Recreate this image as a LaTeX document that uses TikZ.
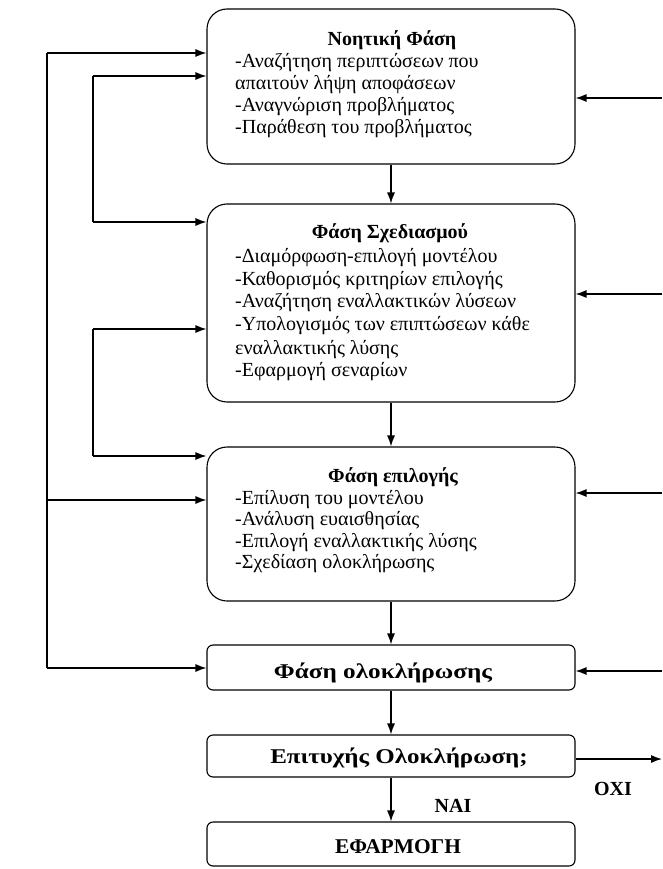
\documentclass[tikz,border=0pt]{standalone}
\usepackage{fontspec}
\usepackage{graphicx}
\setmainfont{Liberation Serif}
\usetikzlibrary{arrows.meta}
\begin{document}
\begin{tikzpicture}[x=1pt,y=-1pt,
  bigbox/.style={draw, line width=1.1pt, rounded corners=20pt, minimum width=368pt, inner sep=0pt},
  smallbox/.style={draw, line width=1.1pt, rounded corners=6pt, minimum width=368pt, inner sep=0pt},
  ttl/.style={font=\fontsize{20}{22}\selectfont\bfseries, anchor=base, inner sep=0pt},
  sttl/.style={font=\fontsize{21}{23}\selectfont\bfseries, anchor=base, inner sep=0pt},
  ln/.style={font=\fontsize{20}{22}\selectfont, anchor=base west, inner sep=0pt},
  lbl/.style={font=\fontsize{20}{22}\selectfont\bfseries, anchor=base, inner sep=0pt},
  arr/.style={line width=1.2pt, -{Latex[length=11pt,width=8pt]}},
  wire/.style={line width=1.2pt}]
\useasboundingbox (0,0) rectangle (662,869);
\fill[white] (0,0) rectangle (662,869);

% boxes
\node[bigbox, minimum height=155pt] (b1) at (391,86.5) {};
\node[bigbox, minimum height=198pt] (b2) at (391,303) {};
\node[bigbox, minimum height=154pt] (b3) at (391,524) {};
\node[smallbox, minimum height=45pt] (b4) at (391,667.5) {};
\node[smallbox, minimum height=42pt] (b5) at (391,756) {};
\node[smallbox, minimum height=44pt] (b6) at (391,844) {};

% box 1 text
\node[ttl] (t1) at (392,46) {Νοητική Φάση};
\node[ln] (t1a) at (235,67.5) {-Αναζήτηση περιπτώσεων που};
\node[ln] (t1b) at (235,89.5) {απαιτούν λήψη αποφάσεων};
\node[ln] (t1c) at (235,111.5) {-Αναγνώριση προβλήματος};
\node[ln] (t1d) at (235,133.5) {-Παράθεση του προβλήματος};

% box 2 text
\node[ttl] (t2) at (390,238.5) {Φάση Σχεδιασμού};
\node[ln] (t2a) at (235,262.5) {-Διαμόρφωση-επιλογή μοντέλου};
\node[ln] (t2b) at (235,285) {-Καθορισμός κριτηρίων επιλογής};
\node[ln] (t2c) at (235,307.5) {-Αναζήτηση εναλλακτικών λύσεων};
\node[ln] (t2d) at (235,330) {-Υπολογισμός των επιπτώσεων κάθε};
\node[ln] (t2e) at (235,354) {εναλλακτικής λύσης};
\node[ln] (t2f) at (235,376.5) {-Εφαρμογή σεναρίων};

% box 3 text
\node[ttl] (t3) at (393,482.5) {Φάση επιλογής};
\node[ln] (t3a) at (235,504) {-Επίλυση του μοντέλου};
\node[ln] (t3b) at (235,525.5) {-Ανάλυση ευαισθησίας};
\node[ln] (t3c) at (235,547) {-Επιλογή εναλλακτικής λύσης};
\node[ln] (t3d) at (235,568.5) {-Σχεδίαση ολοκλήρωσης};

% small boxes text
\node[sttl] (t4) at (383,678) {\scalebox{1.2}[1]{Φάση ολοκλήρωσης}};
\node[sttl] (t5) at (399,763) {\scalebox{1.19}[1]{Επιτυχής Ολοκλήρωση;}};
\node[sttl] (t6) at (398,853) {\scalebox{1.02}[1]{ΕΦΑΡΜΟΓΗ}};

% labels
\node[lbl] (nai) at (453,812) {ΝΑΙ};
\node[lbl] (oxi) at (613,795) {ΟΧΙ};

% vertical flow
\draw[arr] (b1.south) -- (b2.north);
\draw[arr] (b2.south) -- (b3.north);
\draw[arr] (b3.south) -- (b4.north);
\draw[arr] (b4.south) -- (b5.north);
\draw[arr] (b5.south) -- (b6.north);

% left feedback lines
\coordinate (L1) at (47,53);
\coordinate (L2) at (47,500);
\coordinate (L3) at (47,668);
\draw[wire] (L1) -- (L3);
\draw[arr] (L1) -- (L1 -| b1.west);
\draw[arr] (L2) -- (L2 -| b3.west);
\draw[arr] (L3) -- (L3 -| b4.west);

\coordinate (M1) at (93,76);
\coordinate (M2) at (93,222);
\draw[wire] (M1) -- (M2);
\draw[arr] (M1) -- (M1 -| b1.west);
\draw[arr] (M2) -- (M2 -| b2.west);

\coordinate (N1) at (93,329);
\coordinate (N2) at (93,456);
\draw[wire] (N1) -- (N2);
\draw[arr] (N1) -- (N1 -| b2.west);
\draw[arr] (N2) -- (N2 -| b3.west);

% right feedback arrows
\coordinate (R1) at (662,98);
\coordinate (R2) at (662,294);
\coordinate (R3) at (662,493);
\coordinate (R4) at (662,671);
\draw[arr] (R1) -- (R1 -| b1.east);
\draw[arr] (R2) -- (R2 -| b2.east);
\draw[arr] (R3) -- (R3 -| b3.east);
\draw[arr] (R4) -- (R4 -| b4.east);

% exit arrow
\coordinate (E1) at (662,759);
\draw[arr] (b5.east |- E1) -- (E1);
\end{tikzpicture}
\end{document}
